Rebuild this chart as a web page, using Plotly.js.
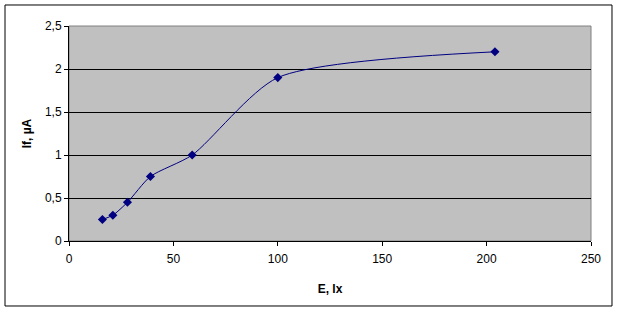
<!DOCTYPE html>
<html>
<head>
<meta charset="utf-8">
<script src="https://cdn.plot.ly/plotly-3.0.1.min.js"></script>
<style>html,body{margin:0;padding:0;background:#fff;}#chart{width:619px;height:312px;}</style>
</head>
<body>
<div id="chart"></div>
<script>
var illuminance = [16, 21, 28, 39, 59, 100, 204];
var photocurrent = [0.25, 0.3, 0.45, 0.75, 1.0, 1.9, 2.2];
var xTitle = "E, lx";
var yTitle = "If, µA";

var font = "Liberation Sans, Arial, sans-serif";
var trace = {
  x: illuminance, y: photocurrent, type: "scatter", mode: "lines+markers",
  line: {color: "#000080", width: 1, shape: "spline", smoothing: 0.7},
  marker: {symbol: "diamond", size: 7, color: "#000080"},
  cliponaxis: false
};
var layout = {
  width: 619, height: 312,
  margin: {l: 69, r: 28, t: 26, b: 71},
  paper_bgcolor: "#ffffff", plot_bgcolor: "#c0c0c0",
  separators: ", ",
  showlegend: false,
  font: {family: font, size: 12, color: "#000"},
  xaxis: {
    range: [0, 250], dtick: 50, tick0: 0, showgrid: false, zeroline: false,
    showline: true, linecolor: "#000", linewidth: 1,
    ticks: "outside", ticklen: 4, tickcolor: "#000", tickwidth: 1,
    ticklabelstandoff: 3,
    tickfont: {family: font, size: 12},
    title: {text: "<b>" + xTitle + "</b>", font: {family: font, size: 12}, standoff: 19}
  },
  yaxis: {
    range: [0, 2.5], dtick: 0.5, tick0: 0, showgrid: true, gridcolor: "#000", gridwidth: 1,
    zeroline: false, showline: true, linecolor: "#000", linewidth: 1,
    ticks: "outside", ticklen: 4, tickcolor: "#000", tickwidth: 1,
    tickfont: {family: font, size: 12},
    title: {text: "<b>" + yTitle + "</b>", font: {family: font, size: 12}, standoff: 10}
  },
  shapes: [
    {type: "rect", xref: "paper", yref: "paper", x0: 0, x1: 1, y0: 0, y1: 1,
     line: {color: "#808080", width: 1}, layer: "below"},
    {type: "rect", xref: "paper", yref: "paper", x0: -0.1226, x1: 1.0402, y0: -0.3023, y1: 1.0977,
     line: {color: "#000", width: 1}, layer: "above"}
  ]
};
Plotly.newPlot("chart", [trace], layout, {staticPlot: true, displayModeBar: false});
</script>
</body>
</html>
